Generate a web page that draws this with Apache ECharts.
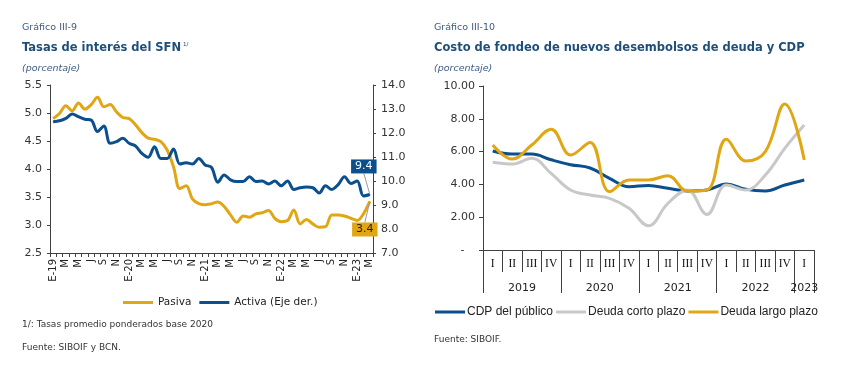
<!DOCTYPE html>
<html><head><meta charset="utf-8">
<script src="https://cdn.jsdelivr.net/npm/echarts@6/dist/echarts.min.js"></script>
<style>html,body{margin:0;padding:0;background:#fff}#c{width:847px;height:370px}</style>
</head><body><div id="c"></div>
<script>
// ---- Left chart data (monthly, Jan-2019 .. Mar-2023)
const months = ['E-19','F','M','A','M','J','J','A','S','O','N','D',
  'E-20','F','M','A','M','J','J','A','S','O','N','D',
  'E-21','F','M','A','M','J','J','A','S','O','N','D',
  'E-22','F','M','A','M','J','J','A','S','O','N','D',
  'E-23','F','M'];
const pasiva = [4.90,4.99,5.13,5.04,5.18,5.07,5.15,5.28,5.11,5.15,5.02,4.92,
  4.90,4.79,4.65,4.55,4.53,4.49,4.34,4.04,3.65,3.70,3.46,3.38,
  3.36,3.38,3.41,3.33,3.18,3.05,3.16,3.14,3.20,3.22,3.26,3.12,
  3.06,3.08,3.27,3.02,3.10,3.02,2.96,2.97,3.18,3.18,3.16,3.12,
  3.08,3.20,3.42];
const activa = [12.47,12.51,12.61,12.79,12.68,12.57,12.54,12.06,12.29,11.57,11.64,11.78,
  11.57,11.46,11.15,10.99,11.43,10.94,10.94,11.33,10.71,10.76,10.71,10.94,
  10.67,10.57,9.95,10.25,10.05,9.98,9.98,10.18,9.98,10.00,9.88,10.00,
  9.80,10.00,9.65,9.72,9.75,9.72,9.50,9.80,9.65,9.85,10.18,9.90,
  10.00,9.38,9.44];
const leftTicks = [2.5,3.0,3.5,4.0,4.5,5.0,5.5];
const rightTicks = [7.0,8.0,9.0,10.0,11.0,12.0,13.0,14.0];

// ---- Right chart data (quarterly, 2019-I .. 2023-I)
const quarters = ['I','II','III','IV','I','II','III','IV','I','II','III','IV','I','II','III','IV','I'];
const years = ['2019','2020','2021','2022','2023'];
const cdp =   [6.04,5.85,5.85,5.50,5.20,5.00,4.37,3.86,3.94,3.76,3.60,3.66,4.02,3.70,3.60,3.96,4.27];
const corto = [5.35,5.24,5.59,4.67,3.66,3.35,3.15,2.54,1.48,2.85,3.66,2.17,3.96,3.66,4.57,6.20,7.62];
const largo = [6.40,5.55,6.40,7.36,5.79,6.56,3.56,4.27,4.27,4.53,3.60,3.66,6.75,5.43,6.00,8.90,5.49];

const GOLD = '#E0A614', BLUE = '#0B4F8C', GRAY = '#C8C8C8';
const AX = '#404040';
const numFont = 'DejaVu Sans';
const txtFont = 'DejaVu Sans';

// year axis (half-quarter resolution): label at middle of each year's span
const yearSlots = new Array(35).fill('');
[4,12,20,28,33].forEach((p,k)=>{ yearSlots[p] = years[k]; });
const yearTickPos = [0,8,16,24,32,34];

const chart = echarts.init(document.getElementById('c'), null, {renderer:'canvas'});
const lastIdx = months.length - 1;

function endPoint(v, i, bg, fg){
  if (i !== lastIdx) return v;
  return {value:v, label:{show:true, position:'inside', formatter:()=>v.toFixed(1), backgroundColor:bg, color:fg,
    fontFamily:numFont, fontSize:11, padding:[2,4,1,4]}};
}

chart.setOption({
  animation:false,
  textStyle:{fontFamily:numFont},
  title:[
    {text:'Gráfico III-9', left:22, top:23, padding:0, textStyle:{fontFamily:txtFont, fontSize:9.5, fontWeight:'normal', color:'#3E5B80'}},
    {text:'Tasas de interés del SFN{s|1/}', left:22, top:42, padding:0,
      textStyle:{fontFamily:txtFont, fontSize:11.5, fontWeight:'bold', color:'#1F4E79',
        rich:{s:{fontSize:5.5, fontWeight:'normal', color:'#1F4E79', verticalAlign:'top', padding:[0,0,6,2]}}}},
    {text:'(porcentaje)', left:22, top:64, padding:0, textStyle:{fontFamily:txtFont, fontSize:9.5, fontStyle:'italic', fontWeight:'normal', color:'#3E5B80'}},
    {text:'1/: Tasas promedio ponderados base 2020', left:22, top:320, padding:0, textStyle:{fontFamily:txtFont, fontSize:9, fontWeight:'normal', color:'#333'}},
    {text:'Fuente: SIBOIF y BCN.', left:22, top:343, padding:0, textStyle:{fontFamily:txtFont, fontSize:9, fontWeight:'normal', color:'#333'}},
    {text:'Gráfico III-10', left:434, top:23, padding:0, textStyle:{fontFamily:txtFont, fontSize:9.5, fontWeight:'normal', color:'#3E5B80'}},
    {text:'Costo de fondeo de nuevos desembolsos de deuda y CDP', left:434, top:42, padding:0, textStyle:{fontFamily:txtFont, fontSize:11.5, fontWeight:'bold', color:'#1F4E79'}},
    {text:'(porcentaje)', left:434, top:64, padding:0, textStyle:{fontFamily:txtFont, fontSize:9.5, fontStyle:'italic', fontWeight:'normal', color:'#3E5B80'}},
    {text:'Fuente: SIBOIF.', left:434, top:335, padding:0, textStyle:{fontFamily:txtFont, fontSize:9, fontWeight:'normal', color:'#333'}}
  ],
  legend:[
    {data:['Pasiva','Activa (Eje der.)'], left:123, top:297, padding:0, itemGap:8, itemWidth:30, itemHeight:3, icon:'rect',
      textStyle:{fontFamily:numFont, fontSize:10.5, color:'#222'}},
    {data:['CDP del público','Deuda corto plazo','Deuda largo plazo'], left:435, top:306, padding:0, itemGap:3, itemWidth:30, itemHeight:3, icon:'rect',
      textStyle:{fontFamily:'Liberation Sans', fontSize:12, color:'#222', padding:[0,0,0,-3]}}
  ],
  grid:[
    {left:50, top:85, width:323, height:168},
    {left:483, top:86, width:331, height:164}
  ],
  xAxis:[
    {gridIndex:0, type:'category', data:months, boundaryGap:true,
      axisLine:{lineStyle:{color:AX}}, axisTick:{show:true, interval:0, length:4, lineStyle:{color:AX}},
      axisLabel:{interval:1, rotate:90, margin:6, fontFamily:numFont, fontSize:10, color:'#222'}, splitLine:{show:false}},
    {gridIndex:1, type:'category', data:quarters, boundaryGap:true, position:'bottom',
      axisLine:{lineStyle:{color:AX}}, axisTick:{show:true, interval:0, length:22, lineStyle:{color:AX}},
      axisLabel:{interval:0, margin:8, fontFamily:'Liberation Serif', fontSize:11.5, color:'#111'}, splitLine:{show:false}},
    {gridIndex:1, type:'category', data:yearSlots, boundaryGap:false, position:'bottom', offset:0,
      axisLine:{show:false}, axisTick:{show:true, length:43, interval:(i)=>yearTickPos.includes(i), lineStyle:{color:AX}},
      axisLabel:{interval:0, margin:33, fontFamily:numFont, fontSize:11, color:'#222'}, splitLine:{show:false}}
  ],
  yAxis:[
    {gridIndex:0, type:'value', min:leftTicks[0], max:leftTicks[leftTicks.length-1], interval:0.5, position:'left',
      axisLine:{show:true, lineStyle:{color:AX}}, axisTick:{show:true, length:3, lineStyle:{color:AX}},
      axisLabel:{formatter:v=>v.toFixed(1), margin:8, fontFamily:numFont, fontSize:11, color:'#333'}, splitLine:{show:false}},
    {gridIndex:0, type:'value', min:rightTicks[0], max:rightTicks[rightTicks.length-1], interval:1, position:'right',
      axisLine:{show:true, lineStyle:{color:AX}}, axisTick:{show:true, length:3, lineStyle:{color:AX}},
      axisLabel:{formatter:v=>v.toFixed(1), margin:8, fontFamily:numFont, fontSize:11, color:'#333'}, splitLine:{show:false}},
    {gridIndex:1, type:'value', min:0, max:10, interval:2, position:'left',
      axisLine:{show:true, lineStyle:{color:AX}}, axisTick:{show:true, length:4, lineStyle:{color:AX}},
      axisLabel:{formatter:v=> v===0 ? '-   ' : v.toFixed(2), margin:8, fontFamily:numFont, fontSize:11, color:'#333'}, splitLine:{show:false}}
  ],
  series:[
    {name:'Pasiva', type:'line', xAxisIndex:0, yAxisIndex:0, smooth:0.35, symbol:'circle', symbolSize:1, showSymbol:true, showAllSymbol:true,
      lineStyle:{color:GOLD, width:3}, itemStyle:{color:GOLD},
      data:pasiva.map((v,i)=>endPoint(v,i,GOLD,'#222')),
      labelLayout:{dx:-5, dy:28, moveOverlap:false},
      labelLine:{show:true, lineStyle:{color:'#9a9a9a', width:1}}},
    {name:'Activa (Eje der.)', type:'line', xAxisIndex:0, yAxisIndex:1, smooth:0.35, symbol:'circle', symbolSize:1, showSymbol:true, showAllSymbol:true,
      lineStyle:{color:BLUE, width:3}, itemStyle:{color:BLUE},
      data:activa.map((v,i)=>endPoint(v,i,BLUE,'#fff')),
      labelLayout:{dx:-6, dy:-28, moveOverlap:false},
      labelLine:{show:true, lineStyle:{color:'#9a9a9a', width:1}}},
    {name:'CDP del público', type:'line', xAxisIndex:1, yAxisIndex:2, smooth:0.4, symbol:'none',
      lineStyle:{color:BLUE, width:3}, itemStyle:{color:BLUE}, data:cdp},
    {name:'Deuda corto plazo', type:'line', xAxisIndex:1, yAxisIndex:2, smooth:0.4, symbol:'none',
      lineStyle:{color:GRAY, width:3}, itemStyle:{color:GRAY}, data:corto},
    {name:'Deuda largo plazo', type:'line', xAxisIndex:1, yAxisIndex:2, smooth:0.4, symbol:'none',
      lineStyle:{color:GOLD, width:3}, itemStyle:{color:GOLD}, data:largo}
  ]
});
</script></body></html>
